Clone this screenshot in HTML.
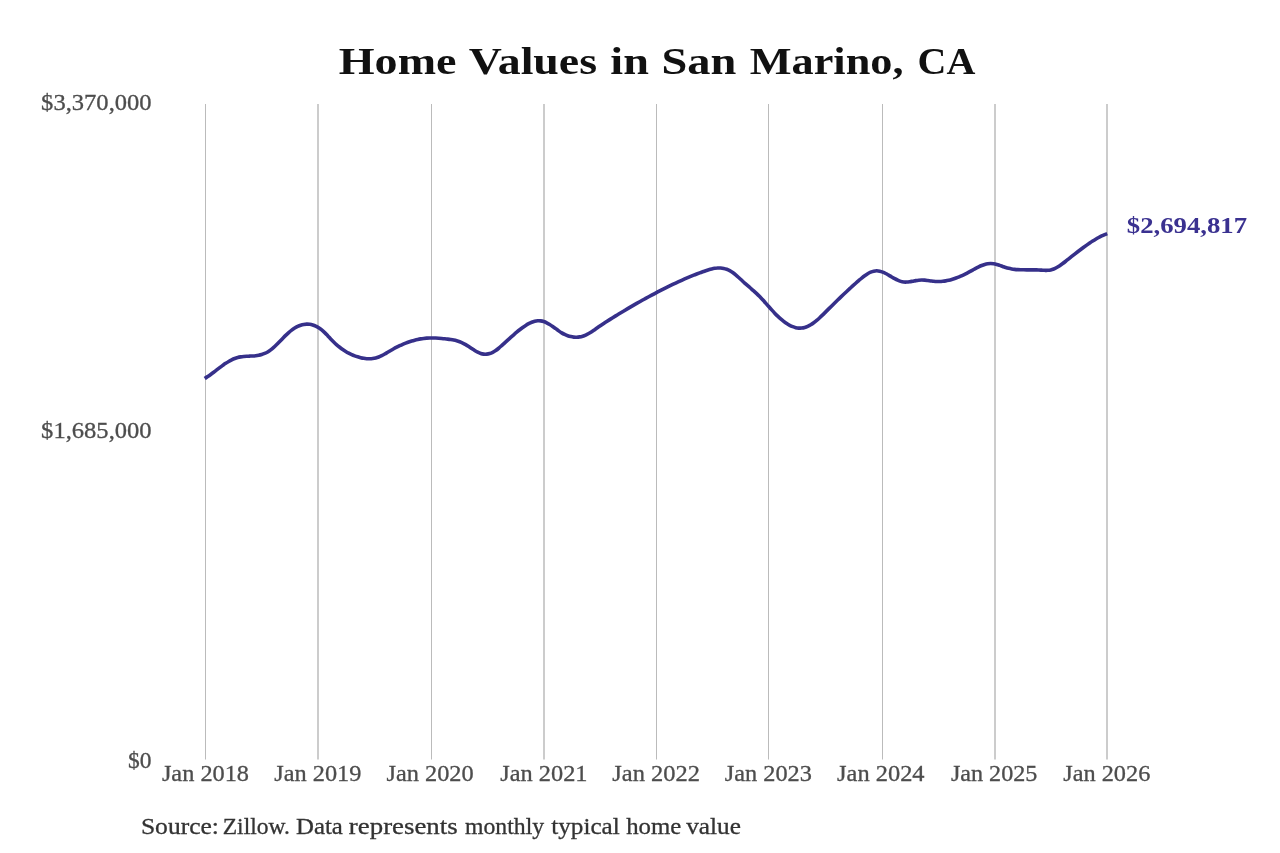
<!DOCTYPE html>
<html><head><meta charset="utf-8">
<style>
html,body{margin:0;padding:0;background:#fff;width:1280px;height:853px;overflow:hidden}
svg{display:block;will-change:transform}
text{font-family:"Liberation Serif",serif}
.ax{font-size:22.5px;fill:#4d4d4d;stroke:#4d4d4d;stroke-width:0.3px}
.ttl{font-size:38.5px;font-weight:bold;fill:#111}
.val{font-size:22.5px;font-weight:bold;fill:#3a3190}
.src{font-size:23.5px;fill:#333;stroke:#333;stroke-width:0.3px}
</style></head>
<body>
<svg width="1280" height="853" viewBox="0 0 1280 853">
<rect width="1280" height="853" fill="#fff"/>
<line x1="205.5" y1="104" x2="205.5" y2="759.5" stroke="#bbbbbb" stroke-width="1"/>
<line x1="318.0" y1="104" x2="318.0" y2="759.5" stroke="#bbbbbb" stroke-width="1.5"/>
<line x1="431.5" y1="104" x2="431.5" y2="759.5" stroke="#bbbbbb" stroke-width="1"/>
<line x1="544.0" y1="104" x2="544.0" y2="759.5" stroke="#bbbbbb" stroke-width="1.5"/>
<line x1="656.5" y1="104" x2="656.5" y2="759.5" stroke="#bbbbbb" stroke-width="1"/>
<line x1="768.5" y1="104" x2="768.5" y2="759.5" stroke="#bbbbbb" stroke-width="1"/>
<line x1="882.5" y1="104" x2="882.5" y2="759.5" stroke="#bbbbbb" stroke-width="1"/>
<line x1="995.0" y1="104" x2="995.0" y2="759.5" stroke="#bbbbbb" stroke-width="1.5"/>
<line x1="1107.0" y1="104" x2="1107.0" y2="759.5" stroke="#bbbbbb" stroke-width="1.5"/>
<path d="M204.70,378.55 C205.20,378.22 206.70,377.27 207.70,376.58 C208.70,375.90 209.70,375.18 210.70,374.45 C211.70,373.72 212.70,372.96 213.70,372.21 C214.70,371.45 215.70,370.67 216.70,369.91 C217.70,369.15 218.70,368.38 219.70,367.63 C220.70,366.88 221.70,366.13 222.70,365.41 C223.70,364.70 224.70,363.99 225.70,363.33 C226.70,362.67 227.70,362.03 228.70,361.44 C229.70,360.85 230.70,360.30 231.70,359.80 C232.70,359.31 233.70,358.86 234.70,358.48 C235.70,358.10 236.70,357.78 237.70,357.52 C238.70,357.25 239.70,357.05 240.70,356.88 C241.70,356.71 242.70,356.60 243.70,356.50 C244.70,356.39 245.70,356.33 246.70,356.27 C247.70,356.20 248.70,356.17 249.70,356.11 C250.70,356.06 251.70,356.02 252.70,355.95 C253.70,355.88 254.70,355.80 255.70,355.68 C256.70,355.57 257.70,355.43 258.70,355.24 C259.70,355.05 260.70,354.82 261.70,354.52 C262.70,354.23 263.70,353.89 264.70,353.46 C265.70,353.03 266.70,352.54 267.70,351.95 C268.70,351.36 269.70,350.68 270.70,349.92 C271.70,349.17 272.70,348.30 273.70,347.41 C274.70,346.52 275.70,345.54 276.70,344.56 C277.70,343.57 278.70,342.53 279.70,341.50 C280.70,340.47 281.70,339.41 282.70,338.39 C283.70,337.37 284.70,336.34 285.70,335.37 C286.70,334.40 287.70,333.45 288.70,332.58 C289.70,331.71 290.70,330.89 291.70,330.14 C292.70,329.39 293.70,328.70 294.70,328.08 C295.70,327.46 296.70,326.91 297.70,326.43 C298.70,325.95 299.70,325.54 300.70,325.20 C301.70,324.87 302.70,324.60 303.70,324.42 C304.70,324.24 305.70,324.13 306.70,324.11 C307.70,324.09 308.70,324.14 309.70,324.28 C310.70,324.42 311.70,324.64 312.70,324.95 C313.70,325.26 314.70,325.64 315.70,326.12 C316.70,326.59 317.70,327.14 318.70,327.78 C319.70,328.42 320.70,329.15 321.70,329.96 C322.70,330.76 323.70,331.67 324.70,332.63 C325.70,333.59 326.70,334.67 327.70,335.72 C328.70,336.77 329.70,337.89 330.70,338.94 C331.70,339.98 332.70,341.02 333.70,341.99 C334.70,342.97 335.70,343.90 336.70,344.78 C337.70,345.66 338.70,346.49 339.70,347.28 C340.70,348.07 341.70,348.82 342.70,349.52 C343.70,350.21 344.70,350.87 345.70,351.48 C346.70,352.08 347.70,352.65 348.70,353.17 C349.70,353.69 350.70,354.17 351.70,354.61 C352.70,355.06 353.70,355.46 354.70,355.83 C355.70,356.20 356.70,356.53 357.70,356.83 C358.70,357.13 359.70,357.40 360.70,357.64 C361.70,357.88 362.70,358.10 363.70,358.27 C364.70,358.44 365.70,358.58 366.70,358.67 C367.70,358.76 368.70,358.81 369.70,358.80 C370.70,358.78 371.70,358.72 372.70,358.59 C373.70,358.46 374.70,358.27 375.70,358.00 C376.70,357.73 377.70,357.39 378.70,356.99 C379.70,356.60 380.70,356.13 381.70,355.63 C382.70,355.14 383.70,354.59 384.70,354.03 C385.70,353.47 386.70,352.87 387.70,352.29 C388.70,351.70 389.70,351.09 390.70,350.51 C391.70,349.92 392.70,349.35 393.70,348.79 C394.70,348.24 395.70,347.71 396.70,347.19 C397.70,346.68 398.70,346.18 399.70,345.70 C400.70,345.23 401.70,344.77 402.70,344.33 C403.70,343.90 404.70,343.48 405.70,343.09 C406.70,342.70 407.70,342.32 408.70,341.97 C409.70,341.62 410.70,341.29 411.70,340.99 C412.70,340.68 413.70,340.40 414.70,340.14 C415.70,339.88 416.70,339.64 417.70,339.43 C418.70,339.22 419.70,339.03 420.70,338.87 C421.70,338.70 422.70,338.57 423.70,338.45 C424.70,338.33 425.70,338.24 426.70,338.17 C427.70,338.10 428.70,338.05 429.70,338.02 C430.70,337.99 431.70,337.98 432.70,337.98 C433.70,337.99 434.70,338.01 435.70,338.05 C436.70,338.09 437.70,338.14 438.70,338.21 C439.70,338.27 440.70,338.35 441.70,338.45 C442.70,338.54 443.70,338.64 444.70,338.75 C445.70,338.86 446.70,338.98 447.70,339.12 C448.70,339.25 449.70,339.39 450.70,339.55 C451.70,339.72 452.70,339.89 453.70,340.11 C454.70,340.32 455.70,340.56 456.70,340.84 C457.70,341.12 458.70,341.44 459.70,341.80 C460.70,342.17 461.70,342.58 462.70,343.05 C463.70,343.52 464.70,344.05 465.70,344.62 C466.70,345.20 467.70,345.86 468.70,346.51 C469.70,347.16 470.70,347.87 471.70,348.54 C472.70,349.20 473.70,349.89 474.70,350.50 C475.70,351.12 476.70,351.72 477.70,352.22 C478.70,352.71 479.70,353.16 480.70,353.49 C481.70,353.81 482.70,354.03 483.70,354.14 C484.70,354.25 485.70,354.25 486.70,354.16 C487.70,354.06 488.70,353.86 489.70,353.56 C490.70,353.26 491.70,352.85 492.70,352.35 C493.70,351.86 494.70,351.25 495.70,350.57 C496.70,349.89 497.70,349.08 498.70,348.25 C499.70,347.42 500.70,346.49 501.70,345.58 C502.70,344.68 503.70,343.73 504.70,342.81 C505.70,341.90 506.70,340.99 507.70,340.09 C508.70,339.19 509.70,338.31 510.70,337.42 C511.70,336.54 512.70,335.66 513.70,334.79 C514.70,333.92 515.70,333.05 516.70,332.22 C517.70,331.38 518.70,330.55 519.70,329.76 C520.70,328.98 521.70,328.21 522.70,327.49 C523.70,326.77 524.70,326.08 525.70,325.45 C526.70,324.81 527.70,324.22 528.70,323.70 C529.70,323.17 530.70,322.69 531.70,322.30 C532.70,321.90 533.70,321.56 534.70,321.32 C535.70,321.07 536.70,320.89 537.70,320.82 C538.70,320.74 539.70,320.75 540.70,320.87 C541.70,320.99 542.70,321.22 543.70,321.54 C544.70,321.86 545.70,322.30 546.70,322.79 C547.70,323.28 548.70,323.88 549.70,324.49 C550.70,325.11 551.70,325.80 552.70,326.50 C553.70,327.20 554.70,327.94 555.70,328.67 C556.70,329.39 557.70,330.15 558.70,330.85 C559.70,331.54 560.70,332.23 561.70,332.84 C562.70,333.44 563.70,333.99 564.70,334.48 C565.70,334.96 566.70,335.39 567.70,335.74 C568.70,336.10 569.70,336.39 570.70,336.62 C571.70,336.85 572.70,337.01 573.70,337.11 C574.70,337.21 575.70,337.24 576.70,337.20 C577.70,337.17 578.70,337.06 579.70,336.89 C580.70,336.72 581.70,336.48 582.70,336.17 C583.70,335.86 584.70,335.48 585.70,335.03 C586.70,334.59 587.70,334.06 588.70,333.51 C589.70,332.95 590.70,332.32 591.70,331.68 C592.70,331.04 593.70,330.35 594.70,329.67 C595.70,328.98 596.70,328.26 597.70,327.55 C598.70,326.85 599.70,326.14 600.70,325.45 C601.70,324.77 602.70,324.10 603.70,323.44 C604.70,322.78 605.70,322.14 606.70,321.51 C607.70,320.87 608.70,320.24 609.70,319.62 C610.70,318.99 611.70,318.37 612.70,317.75 C613.70,317.13 614.70,316.51 615.70,315.89 C616.70,315.28 617.70,314.67 618.70,314.06 C619.70,313.45 620.70,312.84 621.70,312.24 C622.70,311.64 623.70,311.04 624.70,310.44 C625.70,309.84 626.70,309.25 627.70,308.66 C628.70,308.07 629.70,307.48 630.70,306.90 C631.70,306.31 632.70,305.73 633.70,305.15 C634.70,304.57 635.70,304.00 636.70,303.43 C637.70,302.86 638.70,302.29 639.70,301.73 C640.70,301.16 641.70,300.60 642.70,300.04 C643.70,299.49 644.70,298.93 645.70,298.38 C646.70,297.83 647.70,297.29 648.70,296.75 C649.70,296.20 650.70,295.66 651.70,295.13 C652.70,294.59 653.70,294.06 654.70,293.54 C655.70,293.01 656.70,292.48 657.70,291.97 C658.70,291.45 659.70,290.93 660.70,290.42 C661.70,289.91 662.70,289.40 663.70,288.90 C664.70,288.39 665.70,287.89 666.70,287.40 C667.70,286.90 668.70,286.41 669.70,285.92 C670.70,285.44 671.70,284.96 672.70,284.48 C673.70,284.00 674.70,283.52 675.70,283.06 C676.70,282.59 677.70,282.12 678.70,281.66 C679.70,281.20 680.70,280.75 681.70,280.30 C682.70,279.85 683.70,279.41 684.70,278.97 C685.70,278.53 686.70,278.10 687.70,277.67 C688.70,277.24 689.70,276.82 690.70,276.41 C691.70,276.00 692.70,275.59 693.70,275.19 C694.70,274.78 695.70,274.39 696.70,274.00 C697.70,273.61 698.70,273.23 699.70,272.86 C700.70,272.48 701.70,272.12 702.70,271.76 C703.70,271.40 704.70,271.04 705.70,270.71 C706.70,270.37 707.70,270.04 708.70,269.74 C709.70,269.45 710.70,269.17 711.70,268.93 C712.70,268.70 713.70,268.49 714.70,268.33 C715.70,268.18 716.70,268.06 717.70,268.00 C718.70,267.95 719.70,267.94 720.70,268.01 C721.70,268.07 722.70,268.19 723.70,268.40 C724.70,268.61 725.70,268.88 726.70,269.25 C727.70,269.62 728.70,270.07 729.70,270.61 C730.70,271.16 731.70,271.81 732.70,272.52 C733.70,273.23 734.70,274.04 735.70,274.88 C736.70,275.71 737.70,276.62 738.70,277.52 C739.70,278.42 740.70,279.37 741.70,280.29 C742.70,281.21 743.70,282.14 744.70,283.04 C745.70,283.93 746.70,284.80 747.70,285.67 C748.70,286.54 749.70,287.38 750.70,288.25 C751.70,289.12 752.70,289.98 753.70,290.88 C754.70,291.77 755.70,292.68 756.70,293.64 C757.70,294.59 758.70,295.58 759.70,296.61 C760.70,297.64 761.70,298.72 762.70,299.81 C763.70,300.90 764.70,302.03 765.70,303.15 C766.70,304.27 767.70,305.42 768.70,306.54 C769.70,307.67 770.70,308.80 771.70,309.90 C772.70,311.00 773.70,312.09 774.70,313.13 C775.70,314.18 776.70,315.20 777.70,316.16 C778.70,317.13 779.70,318.06 780.70,318.93 C781.70,319.80 782.70,320.63 783.70,321.40 C784.70,322.17 785.70,322.88 786.70,323.54 C787.70,324.19 788.70,324.79 789.70,325.31 C790.70,325.84 791.70,326.30 792.70,326.69 C793.70,327.07 794.70,327.39 795.70,327.63 C796.70,327.86 797.70,328.03 798.70,328.10 C799.70,328.18 800.70,328.18 801.70,328.08 C802.70,327.98 803.70,327.80 804.70,327.52 C805.70,327.25 806.70,326.87 807.70,326.41 C808.70,325.96 809.70,325.41 810.70,324.80 C811.70,324.19 812.70,323.50 813.70,322.76 C814.70,322.02 815.70,321.22 816.70,320.37 C817.70,319.53 818.70,318.64 819.70,317.72 C820.70,316.80 821.70,315.84 822.70,314.87 C823.70,313.90 824.70,312.89 825.70,311.90 C826.70,310.90 827.70,309.89 828.70,308.89 C829.70,307.89 830.70,306.89 831.70,305.90 C832.70,304.91 833.70,303.92 834.70,302.94 C835.70,301.96 836.70,300.98 837.70,300.02 C838.70,299.05 839.70,298.08 840.70,297.13 C841.70,296.17 842.70,295.22 843.70,294.28 C844.70,293.33 845.70,292.39 846.70,291.46 C847.70,290.53 848.70,289.60 849.70,288.68 C850.70,287.77 851.70,286.85 852.70,285.95 C853.70,285.04 854.70,284.14 855.70,283.25 C856.70,282.36 857.70,281.47 858.70,280.60 C859.70,279.74 860.70,278.87 861.70,278.06 C862.70,277.24 863.70,276.45 864.70,275.73 C865.70,275.00 866.70,274.32 867.70,273.72 C868.70,273.13 869.70,272.59 870.70,272.16 C871.70,271.73 872.70,271.37 873.70,271.15 C874.70,270.92 875.70,270.80 876.70,270.80 C877.70,270.80 878.70,270.95 879.70,271.17 C880.70,271.39 881.70,271.73 882.70,272.12 C883.70,272.51 884.70,273.00 885.70,273.51 C886.70,274.02 887.70,274.60 888.70,275.17 C889.70,275.74 890.70,276.36 891.70,276.94 C892.70,277.53 893.70,278.13 894.70,278.67 C895.70,279.21 896.70,279.74 897.70,280.19 C898.70,280.64 899.70,281.05 900.70,281.35 C901.70,281.65 902.70,281.87 903.70,281.99 C904.70,282.10 905.70,282.10 906.70,282.06 C907.70,282.02 908.70,281.88 909.70,281.74 C910.70,281.59 911.70,281.38 912.70,281.20 C913.70,281.01 914.70,280.78 915.70,280.61 C916.70,280.44 917.70,280.27 918.70,280.17 C919.70,280.07 920.70,280.03 921.70,280.03 C922.70,280.03 923.70,280.10 924.70,280.17 C925.70,280.25 926.70,280.38 927.70,280.50 C928.70,280.62 929.70,280.78 930.70,280.91 C931.70,281.03 932.70,281.17 933.70,281.27 C934.70,281.37 935.70,281.46 936.70,281.50 C937.70,281.54 938.70,281.55 939.70,281.51 C940.70,281.48 941.70,281.40 942.70,281.30 C943.70,281.19 944.70,281.05 945.70,280.87 C946.70,280.70 947.70,280.49 948.70,280.26 C949.70,280.02 950.70,279.76 951.70,279.46 C952.70,279.17 953.70,278.85 954.70,278.50 C955.70,278.16 956.70,277.78 957.70,277.39 C958.70,277.00 959.70,276.58 960.70,276.14 C961.70,275.70 962.70,275.24 963.70,274.77 C964.70,274.29 965.70,273.79 966.70,273.28 C967.70,272.77 968.70,272.24 969.70,271.71 C970.70,271.17 971.70,270.61 972.70,270.06 C973.70,269.51 974.70,268.94 975.70,268.41 C976.70,267.88 977.70,267.34 978.70,266.86 C979.70,266.37 980.70,265.90 981.70,265.49 C982.70,265.08 983.70,264.71 984.70,264.41 C985.70,264.11 986.70,263.85 987.70,263.69 C988.70,263.53 989.70,263.43 990.70,263.44 C991.70,263.44 992.70,263.55 993.70,263.71 C994.70,263.88 995.70,264.14 996.70,264.42 C997.70,264.70 998.70,265.05 999.70,265.39 C1000.70,265.74 1001.70,266.12 1002.70,266.48 C1003.70,266.83 1004.70,267.21 1005.70,267.52 C1006.70,267.84 1007.70,268.13 1008.70,268.37 C1009.70,268.61 1010.70,268.81 1011.70,268.98 C1012.70,269.14 1013.70,269.27 1014.70,269.38 C1015.70,269.49 1016.70,269.57 1017.70,269.63 C1018.70,269.69 1019.70,269.73 1020.70,269.76 C1021.70,269.79 1022.70,269.80 1023.70,269.81 C1024.70,269.83 1025.70,269.83 1026.70,269.83 C1027.70,269.83 1028.70,269.83 1029.70,269.83 C1030.70,269.83 1031.70,269.83 1032.70,269.84 C1033.70,269.84 1034.70,269.85 1035.70,269.87 C1036.70,269.90 1037.70,269.92 1038.70,269.97 C1039.70,270.01 1040.70,270.08 1041.70,270.14 C1042.70,270.20 1043.70,270.29 1044.70,270.32 C1045.70,270.34 1046.70,270.37 1047.70,270.31 C1048.70,270.24 1049.70,270.14 1050.70,269.92 C1051.70,269.70 1052.70,269.38 1053.70,268.98 C1054.70,268.59 1055.70,268.09 1056.70,267.54 C1057.70,266.99 1058.70,266.35 1059.70,265.69 C1060.70,265.02 1061.70,264.29 1062.70,263.55 C1063.70,262.81 1064.70,262.02 1065.70,261.23 C1066.70,260.45 1067.70,259.64 1068.70,258.84 C1069.70,258.05 1070.70,257.25 1071.70,256.46 C1072.70,255.67 1073.70,254.88 1074.70,254.10 C1075.70,253.32 1076.70,252.54 1077.70,251.77 C1078.70,251.00 1079.70,250.24 1080.70,249.49 C1081.70,248.74 1082.70,248.00 1083.70,247.27 C1084.70,246.54 1085.70,245.82 1086.70,245.11 C1087.70,244.41 1088.70,243.72 1089.70,243.04 C1090.70,242.37 1091.70,241.71 1092.70,241.08 C1093.70,240.44 1094.70,239.83 1095.70,239.24 C1096.70,238.64 1097.70,238.07 1098.70,237.53 C1099.70,236.99 1100.70,236.47 1101.70,235.99 C1102.70,235.50 1103.78,235.02 1104.70,234.62 C1105.62,234.23 1106.78,233.80 1107.20,233.63" fill="none" stroke="#36308a" stroke-width="3.6" stroke-linecap="butt" stroke-linejoin="round"/>
<text class="ttl" transform="translate(338.80,73.5) scale(1.1969,1)">Home</text>
<text class="ttl" transform="translate(468.80,73.5) scale(1.1916,1)">Values</text>
<text class="ttl" transform="translate(610.30,73.5) scale(1.2000,1)">in</text>
<text class="ttl" transform="translate(661.49,73.5) scale(1.2067,1)">San</text>
<text class="ttl" transform="translate(749.75,73.5) scale(1.1504,1)">Marino,</text>
<text class="ttl" transform="translate(917.52,73.5) scale(1.0396,1)">CA</text>
<text class="ax" transform="translate(41.11,110.4) scale(1.0920,1)">$3,370,000</text>
<text class="ax" transform="translate(41.11,437.5) scale(1.0920,1)">$1,685,000</text>
<text class="ax" transform="translate(128.06,767.6) scale(1.0429,1)">$0</text>
<text class="val" transform="translate(1126.81,232.9) scale(1.1880,1)">$2,694,817</text>
<text class="ax" transform="translate(161.90,781.0) scale(1.0813,1)">Jan 2018</text>
<text class="ax" transform="translate(274.30,781.0) scale(1.0813,1)">Jan 2019</text>
<text class="ax" transform="translate(386.50,781.0) scale(1.0813,1)">Jan 2020</text>
<text class="ax" transform="translate(500.30,781.0) scale(1.0823,1)">Jan 2021</text>
<text class="ax" transform="translate(612.30,781.0) scale(1.0886,1)">Jan 2022</text>
<text class="ax" transform="translate(724.80,781.0) scale(1.0806,1)">Jan 2023</text>
<text class="ax" transform="translate(837.10,781.0) scale(1.0850,1)">Jan 2024</text>
<text class="ax" transform="translate(950.90,781.0) scale(1.0737,1)">Jan 2025</text>
<text class="ax" transform="translate(1063.20,781.0) scale(1.0813,1)">Jan 2026</text>
<text class="src" transform="translate(140.91,834.2) scale(1.0870,1)">Source:</text>
<text class="src" transform="translate(222.75,834.2) scale(1.0000,1)">Zillow.</text>
<text class="src" transform="translate(295.94,834.2) scale(1.0581,1)">Data</text>
<text class="src" transform="translate(348.86,834.2) scale(1.1425,1)">represents</text>
<text class="src" transform="translate(465.00,834.2) scale(1.0096,1)">monthly</text>
<text class="src" transform="translate(551.25,834.2) scale(1.0714,1)">typical</text>
<text class="src" transform="translate(626.25,834.2) scale(1.0539,1)">home</text>
<text class="src" transform="translate(686.25,834.2) scale(1.0750,1)">value</text>
</svg>
</body></html>
